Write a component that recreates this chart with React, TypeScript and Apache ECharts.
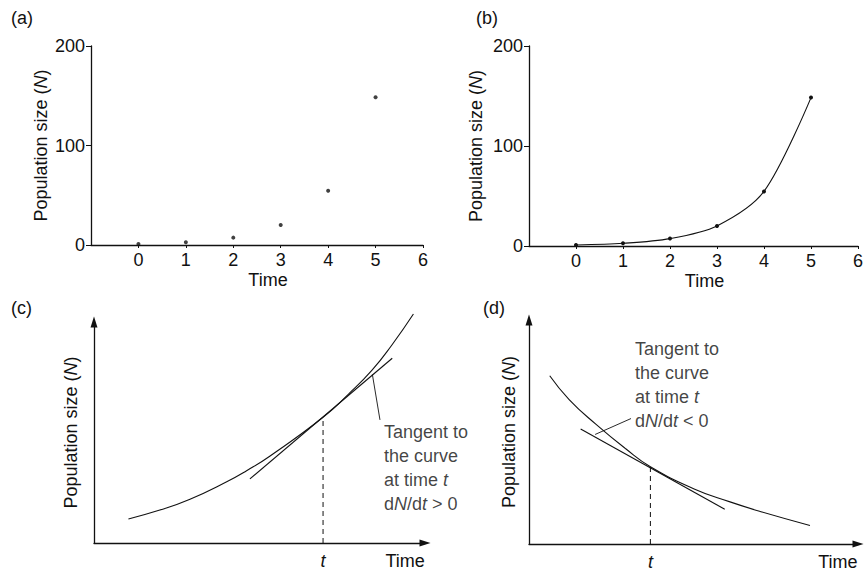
import React, { useEffect, useRef } from 'react';
import * as echarts from 'echarts';

// ---- Panels (a) and (b): exponential growth data ----
const TIME_TICKS = [0, 1, 2, 3, 4, 5, 6];
const TIMES = [0, 1, 2, 3, 4, 5];
const POP = [1, 2.7, 7.4, 20.1, 54.6, 148.4];
const POP_TICKS = [0, 100, 200];

// ---- Panel (c): growing population (arbitrary units 0..10) ----
const C_CURVE_X = [1.04, 1.99, 2.9, 4.01, 4.61, 5.32, 6.92, 7.69, 8.4, 9.0, 9.65];
const C_CURVE_Y = [1.09, 1.49, 1.98, 2.77, 3.27, 3.94, 5.69, 6.74, 7.82, 8.96, 10.36];
const C_T = 6.92;
const C_T_N = 5.69;
const C_TANGENT = [[4.71, 2.9], [9.01, 8.36]];
const C_POINTER = [[8.41, 7.63], [8.64, 5.57]];
const C_NOTE_AT = [8.76, 3.39];
const C_TIME_AT = 9.4;

// ---- Panel (d): declining population (arbitrary units 0..10) ----
const D_CURVE_X = [0.63, 1.22, 2.03, 2.94, 3.69, 5.02, 6.11, 7.08, 8.54];
const D_CURVE_Y = [7.51, 6.45, 5.35, 4.25, 3.45, 2.46, 1.88, 1.43, 0.83];
const D_T = 3.69;
const D_T_N = 3.45;
const D_TANGENT = [[1.57, 5.13], [5.95, 1.55]];
const D_POINTER = [[2.01, 4.89], [3.1, 5.6]];
const D_NOTE_AT = [3.22, 7.1];
const D_TIME_AT = 9.39;

const FONT = 'Liberation Sans, Arial, Helvetica, sans-serif';
const FS = 18;
const BLACK = '#111';

const richBase = {
  n: { fontFamily: FONT, fontSize: FS, color: BLACK, lineHeight: 24 },
  i: { fontFamily: FONT, fontSize: FS, color: BLACK, fontStyle: 'italic' as const, lineHeight: 24 },
};

const popName = '{n|Population size (}{i|N}{n|)}';

function zip(xs: number[], ys: number[]) {
  return xs.map((x, k) => [x, ys[k]]);
}

export default function App() {
  const ref = useRef<HTMLDivElement>(null);

  useEffect(() => {
    document.body.style.margin = '0';
    const chart = echarts.init(ref.current!, null, { renderer: 'svg' });

    const axisLine = { show: true, onZero: false, lineStyle: { color: BLACK, width: 1.3 } };
    const arrowLine = {
      show: true,
      onZero: false,
      lineStyle: { color: BLACK, width: 1.3 },
      symbol: ['none', 'triangle'],
      symbolSize: [7, 11],
    };

    const xAB = (gridIndex: number) => ({
      type: 'value',
      gridIndex,
      min: -1,
      max: 6,
      interval: 1,
      axisLine,
      splitLine: { show: false },
      axisTick: { show: true, customValues: TIME_TICKS, length: 3, inside: false, lineStyle: { color: BLACK } },
      axisLabel: {
        customValues: TIME_TICKS,
        margin: 6,
        color: BLACK,
        fontFamily: FONT,
        fontSize: FS,
      },
      name: 'Time',
      nameLocation: 'middle',
      nameGap: 26,
      nameTextStyle: { color: BLACK, fontFamily: FONT, fontSize: FS, padding: [0, 0, 0, 22] },
    });

    const yAB = (gridIndex: number, gap: number) => ({
      type: 'value',
      gridIndex,
      min: 0,
      max: 200,
      interval: 100,
      axisLine,
      splitLine: { show: false },
      axisTick: { show: true, length: 5, lineStyle: { color: BLACK } },
      axisLabel: {
        margin: 6,
        color: BLACK,
        fontFamily: FONT,
        fontSize: FS,
        customValues: POP_TICKS,
      },
      name: popName,
      nameLocation: 'middle',
      nameRotate: 90,
      nameGap: gap,
      nameTextStyle: { rich: richBase },
    });

    const xCD = (gridIndex: number, tVal: number, timeAt: number) => ({
      type: 'value',
      gridIndex,
      min: 0,
      max: 10,
      axisLine: arrowLine,
      splitLine: { show: false },
      axisTick: { show: false },
      axisLabel: {
        customValues: [tVal, timeAt],
        margin: 6,
        formatter: (v: number) => (Math.abs(v - tVal) < 1e-6 ? '{i|t}' : '{n|Time}'),
        rich: richBase,
      },
    });

    const yCD = (gridIndex: number, gap: number) => ({
      type: 'value',
      gridIndex,
      min: 0,
      max: 10,
      axisLine: arrowLine,
      splitLine: { show: false },
      axisTick: { show: false },
      axisLabel: { show: false },
      name: popName,
      nameLocation: 'middle',
      nameRotate: 90,
      nameGap: gap,
      nameTextStyle: { rich: richBase },
    });

    const thin = (data: number[][], xi: number, extra: any = {}) => ({
      type: 'line',
      xAxisIndex: xi,
      yAxisIndex: xi,
      data,
      symbol: 'none',
      clip: false,
      silent: true,
      lineStyle: { color: BLACK, width: 1.1, ...(extra.lineStyle || {}) },
      ...extra.rest,
    });

    const note = (at: number[], xi: number, text: string) => ({
      type: 'scatter',
      xAxisIndex: xi,
      yAxisIndex: xi,
      data: [at],
      symbolSize: 0,
      silent: true,
      label: {
        show: true,
        position: 'right',
        distance: 0,
        formatter: text,
        rich: richBase,
      },
    });

    const popPts = zip(TIMES, POP);
    const titleStyle = { fontFamily: FONT, fontSize: FS, fontWeight: 'normal', color: BLACK };

    const option: any = {
      animation: false,
      backgroundColor: '#fff',
      title: [
        { text: '(a)', left: 6, top: 4, textStyle: titleStyle },
        { text: '(b)', left: 471, top: 4, textStyle: titleStyle },
        { text: '(c)', left: 6, top: 294, textStyle: titleStyle },
        { text: '(d)', left: 478, top: 294, textStyle: titleStyle },
      ],
      grid: [
        { left: 91, top: 46, width: 332, height: 199 },
        { left: 529, top: 46, width: 331, height: 200 },
        { left: 94, top: 322, width: 331, height: 221 },
        { left: 529, top: 320, width: 329, height: 224 },
      ],
      xAxis: [xAB(0), xAB(1), xCD(2, C_T, C_TIME_AT), xCD(3, D_T, D_TIME_AT)],
      yAxis: [yAB(0, 38), yAB(1, 41), yCD(2, 11), yCD(3, 8)],
      series: [
        {
          type: 'scatter',
          xAxisIndex: 0,
          yAxisIndex: 0,
          data: popPts,
          symbol: 'circle',
          symbolSize: 4,
          itemStyle: { color: BLACK },
        },
        {
          type: 'line',
          xAxisIndex: 1,
          yAxisIndex: 1,
          data: popPts,
          smooth: 0.3,
          symbol: 'circle',
          symbolSize: 4,
          showSymbol: true,
          itemStyle: { color: BLACK },
          lineStyle: { color: BLACK, width: 1.1 },
        },
        // panel (c)
        thin(zip(C_CURVE_X, C_CURVE_Y), 2, { rest: { smooth: 0.5 } }),
        thin(C_TANGENT, 2),
        thin([[C_T, 0], [C_T, C_T_N]], 2, { lineStyle: { type: [5, 4], width: 1 } }),
        thin(C_POINTER, 2, { lineStyle: { width: 0.9 } }),
        note(C_NOTE_AT, 2, '{n|Tangent to}\n{n|the curve}\n{n|at time }{i|t}\n{n|d}{i|N}{n|/d}{i|t}{n| > 0}'),
        // panel (d)
        thin(zip(D_CURVE_X, D_CURVE_Y), 3, { rest: { smooth: 0.5 } }),
        thin(D_TANGENT, 3),
        thin([[D_T, 0], [D_T, D_T_N]], 3, { lineStyle: { type: [5, 4], width: 1 } }),
        thin(D_POINTER, 3, { lineStyle: { width: 0.9 } }),
        note(D_NOTE_AT, 3, '{n|Tangent to}\n{n|the curve}\n{n|at time }{i|t}\n{n|d}{i|N}{n|/d}{i|t}{n| < 0}'),
      ],
    };

    chart.setOption(option);
    return () => chart.dispose();
  }, []);

  return <div ref={ref} style={{ width: 866, height: 571 }} />;
}
